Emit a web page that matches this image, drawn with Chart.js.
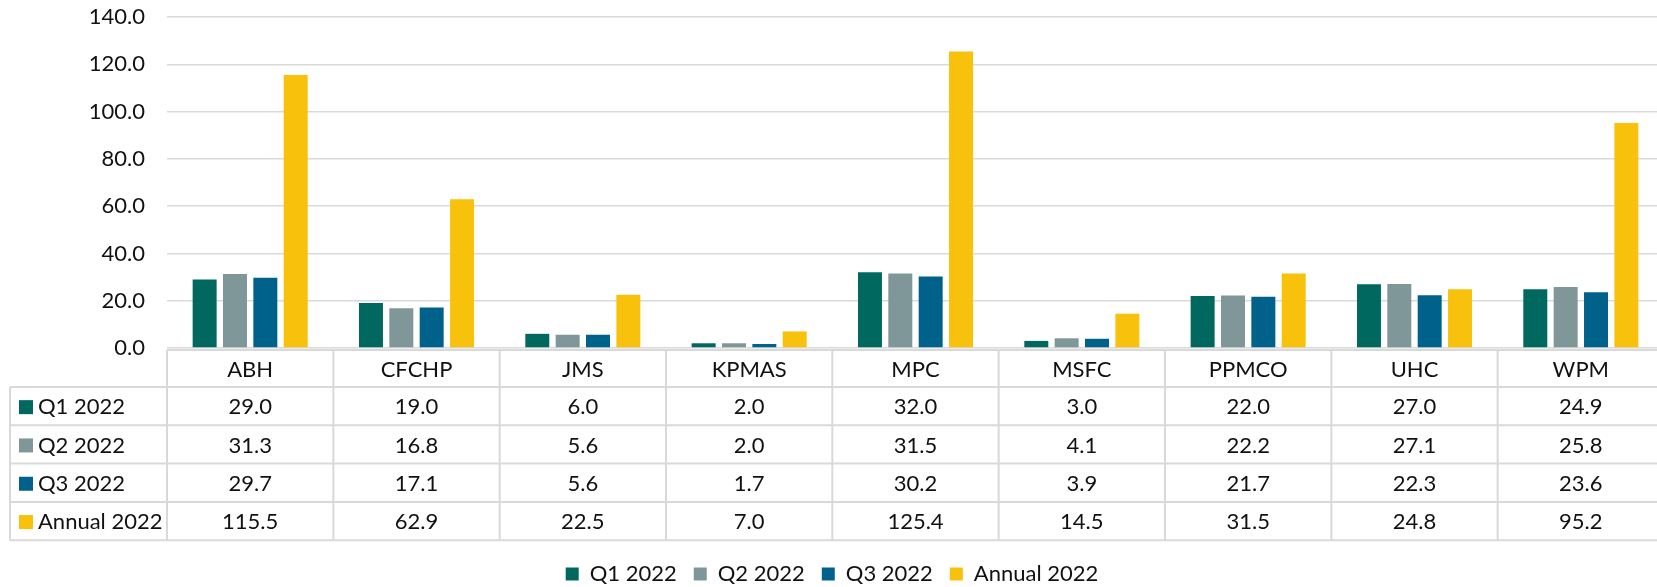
<!DOCTYPE html>
<html>
<head>
<meta charset="utf-8">
<script src="https://cdn.jsdelivr.net/npm/chart.js@4"></script>
<style>
    html, body { margin: 0; padding: 0; background: #fff; overflow: hidden; }
    #wrap { width: 1664px; height: 587px; position: relative; }
</style>
</head>
<body>
<div id="wrap"><canvas id="grafico"></canvas></div>
<script>
const categorias = ['ABH', 'CFCHP', 'JMS', 'KPMAS', 'MPC', 'MSFC', 'PPMCO', 'UHC', 'WPM'];
const q1 = [29.0, 19.0, 6.0, 2.0, 32.0, 3.0, 22.0, 27.0, 24.9];
const q2 = [31.3, 16.8, 5.6, 2.0, 31.5, 4.1, 22.2, 27.1, 25.8];
const q3 = [29.7, 17.1, 5.6, 1.7, 30.2, 3.9, 21.7, 22.3, 23.6];
const anual = [115.5, 62.9, 22.5, 7.0, 125.4, 14.5, 31.5, 24.8, 95.2];
const nomesSeries = ['Q1 2022', 'Q2 2022', 'Q3 2022', 'Annual 2022'];
const coresSeries = ['#00685e', '#7f9799', '#00628a', '#f8c20c'];
const yMax = 140;
const yPasso = 20;

const fonte = 'Lato, "Open Sans", sans-serif';
const tamFonte = 22;
const corGrade = '#d9d9d9';

// tabela de dados desenhada sob o eixo x, usando as posicoes da escala
const tabelaPlugin = {
    id: 'tabelaDados',
    afterDraw(chart) {
        const ctx = chart.ctx;
        const xs = chart.scales.x;
        const area = chart.chartArea;
        const series = chart.data.datasets;
        const larg = xs.width / categorias.length;
        const topo = area.bottom + 2;
        const altCab = 37;
        const altLinha = 38.3;
        const esq = 10;

        ctx.save();
        ctx.strokeStyle = corGrade;
        ctx.lineWidth = 2;

        // linhas horizontais
        ctx.beginPath();
        ctx.moveTo(xs.left, topo);
        ctx.lineTo(xs.right, topo);
        for (let r = 0; r <= series.length; r++) {
            const y = topo + altCab + r * altLinha;
            ctx.moveTo(esq, y);
            ctx.lineTo(xs.right, y);
        }
        // linhas verticais
        const fundo = topo + altCab + series.length * altLinha;
        ctx.moveTo(esq, topo + altCab);
        ctx.lineTo(esq, fundo);
        for (let i = 0; i <= categorias.length; i++) {
            const x = xs.getPixelForValue(i) - larg / 2;
            ctx.moveTo(x, topo);
            ctx.lineTo(x, fundo);
        }
        ctx.stroke();

        ctx.font = tamFonte + 'px ' + fonte;
        ctx.fillStyle = '#111';
        ctx.textBaseline = 'middle';
        ctx.textAlign = 'center';

        categorias.forEach((cat, i) => {
            ctx.fillText(cat, xs.getPixelForValue(i), topo + altCab / 2 + 1);
        });

        series.forEach((ds, r) => {
            const yc = topo + altCab + r * altLinha + altLinha / 2 + 1;
            ctx.textAlign = 'center';
            ctx.fillStyle = '#111';
            ds.data.forEach((v, i) => {
                ctx.fillText(v.toFixed(1), xs.getPixelForValue(i), yc);
            });
            ctx.fillStyle = ds.backgroundColor;
            ctx.fillRect(19, yc - 7, 14, 14);
            ctx.fillStyle = '#111';
            ctx.textAlign = 'left';
            ctx.fillText(ds.label, 38, yc);
        });
        ctx.restore();
    }
};

const todasSeries = [q1, q2, q3, anual];
const datasets = todasSeries.map((dados, k) => ({
    label: nomesSeries[k],
    data: dados,
    backgroundColor: coresSeries[k],
    borderWidth: 0,
    categoryPercentage: 0.73,
    barPercentage: 0.79
}));

new Chart(document.getElementById('grafico'), {
    type: 'bar',
    data: {
        labels: categorias,
        datasets: datasets
    },
    options: {
        responsive: true,
        maintainAspectRatio: false,
        animation: false,
        layout: {
            padding: { top: 17, left: 0, right: 0, bottom: -8 }
        },
        plugins: {
            legend: {
                position: 'bottom',
                labels: {
                    boxWidth: 13,
                    boxHeight: 13,
                    padding: 17,
                    color: '#111',
                    font: { family: fonte, size: tamFonte }
                }
            },
            tooltip: { enabled: false }
        },
        scales: {
            x: {
                grid: { display: false, drawTicks: false },
                border: { display: false },
                ticks: { display: false },
                afterFit: function(scale) {
                    scale.height = 198;
                }
            },
            y: {
                min: 0,
                max: yMax,
                ticks: {
                    stepSize: yPasso,
                    padding: 22,
                    color: '#111',
                    font: { family: fonte, size: tamFonte },
                    callback: v => v.toFixed(1)
                },
                grid: { color: corGrade, lineWidth: 1.5, drawTicks: false },
                border: { display: false },
                afterFit: function(scale) {
                    scale.width = 167;
                    scale.paddingTop = 0;
                    scale.paddingBottom = 0;
                }
            }
        }
    },
    plugins: [tabelaPlugin]
});
</script>
</body>
</html>
